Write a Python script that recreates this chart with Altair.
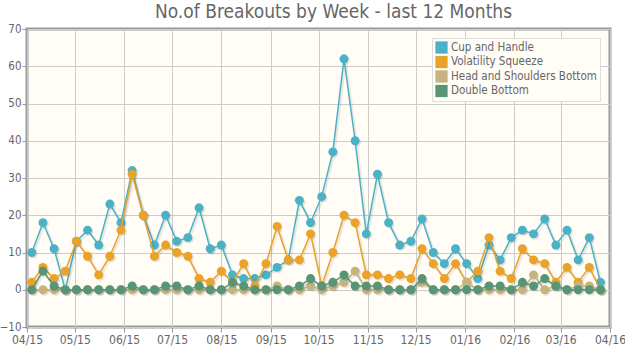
import altair as alt
import pandas as pd

weeks = [
    "2015-04-04", "2015-04-11", "2015-04-18", "2015-04-25",
    "2015-05-02", "2015-05-09", "2015-05-16", "2015-05-23", "2015-05-30",
    "2015-06-06", "2015-06-13", "2015-06-20", "2015-06-27",
    "2015-07-04", "2015-07-11", "2015-07-18", "2015-07-25",
    "2015-08-01", "2015-08-08", "2015-08-15", "2015-08-22", "2015-08-29",
    "2015-09-05", "2015-09-12", "2015-09-19", "2015-09-26",
    "2015-10-03", "2015-10-10", "2015-10-17", "2015-10-24", "2015-10-31",
    "2015-11-07", "2015-11-14", "2015-11-21", "2015-11-28",
    "2015-12-05", "2015-12-12", "2015-12-19", "2015-12-26",
    "2016-01-02", "2016-01-09", "2016-01-16", "2016-01-23", "2016-01-30",
    "2016-02-06", "2016-02-13", "2016-02-20", "2016-02-27",
    "2016-03-05", "2016-03-12", "2016-03-19", "2016-03-26",
]

series_names = ["Cup and Handle", "Volatility Squeeze",
                "Head and Shoulders Bottom", "Double Bottom"]
series_colors = ["#4bb2c5", "#EAA228", "#c5b47f", "#579575"]

cup_and_handle = [10, 18, 11, 0, 13, 16, 12, 23, 18, 32, 20, 12, 20, 13, 14, 22,
                  11, 12, 4, 3, 3, 4, 6, 8, 24, 18, 25, 37, 62, 40, 15, 31,
                  18, 12, 13, 19, 10, 7, 11, 7, 3, 12, 8, 14, 16, 15, 19, 12,
                  16, 8, 14, 2]
volatility_squeeze = [2, 6, 3, 5, 13, 9, 4, 9, 16, 31, 20, 9, 12, 10, 9, 3,
                      2, 5, 2, 7, 1, 7, 17, 8, 8, 15, 1, 10, 20, 18, 4, 4,
                      3, 4, 3, 11, 7, 3, 7, 2, 5, 14, 5, 3, 11, 8, 7, 2,
                      6, 2, 6, 0]
head_shoulders_bottom = [0, 0, 0, 0, 0, 0, 0, 0, 0, 0, 0, 0, 0, 0, 0, 0,
                         0, 0, 0, 0, 0, 0, 1, 0, 0, 1, 0, 1, 2, 5, 0, 0,
                         0, 0, 0, 2, 0, 0, 0, 2, 0, 0, 0, 0, 0, 4, 0, 1,
                         0, 1, 1, 0]
double_bottom = [0, 5, 1, 0, 0, 0, 0, 0, 0, 1, 0, 0, 1, 1, 0, 1,
                 0, 0, 2, 1, 0, 0, 0, 0, 1, 3, 1, 2, 4, 1, 1, 1,
                 0, 0, 0, 3, 0, 0, 0, 0, 0, 1, 1, 0, 2, 1, 3, 1,
                 0, 0, 0, 0]

y_ticks = [-10, 0, 10, 20, 30, 40, 50, 60, 70]

rows = []
for name, vals in zip(series_names,
                      [cup_and_handle, volatility_squeeze,
                       head_shoulders_bottom, double_bottom]):
    for w, v in zip(weeks, vals):
        rows.append({"week": w, "series": name, "value": v})
df = pd.DataFrame(rows)

FONT = "DejaVu Sans Condensed"

x_enc = alt.X(
    "week:T",
    scale=alt.Scale(type="utc",
                    domain=[alt.DateTime(year=2015, month=4, date=1, utc=True),
                            alt.DateTime(year=2016, month=4, date=1, utc=True)]),
    axis=alt.Axis(format="%m/%y", tickCount={"interval": "month", "step": 1},
                  labelOverlap=False, labelBound=False, labelFlush=False,
                  title=None),
)
y_enc = alt.Y(
    "value:Q",
    scale=alt.Scale(domain=[-10, 70], nice=False, zero=False),
    axis=alt.Axis(values=y_ticks, title=None),
)
color_scale = alt.Scale(domain=series_names, range=series_colors)
color_enc = alt.Color("series:N", scale=color_scale, legend=alt.Legend(title=None))

base = alt.Chart(df)
layers = []
for i, name in enumerate(series_names):
    sub = base.transform_filter(alt.datum.series == name)
    shadow_line = sub.mark_line(strokeWidth=2.5, color="#000000", opacity=0.08,
                                xOffset=1.5, yOffset=1.5).encode(x=x_enc, y=y_enc)
    shadow_pt = sub.mark_point(filled=True, size=80, color="#000000", opacity=0.1,
                               xOffset=1.5, yOffset=1.5).encode(x=x_enc, y=y_enc)
    line = sub.mark_line(strokeWidth=1.5).encode(x=x_enc, y=y_enc, color=color_enc)
    pts = sub.mark_point(filled=True, size=80, opacity=1).encode(
        x=x_enc, y=y_enc, color=color_enc)
    layers += [shadow_line, shadow_pt, line, pts]

chart = alt.layer(*layers).properties(
    width=583,
    height=298,
    autosize=alt.AutoSizeParams(type="none"),
    padding={"left": 27, "top": 29, "right": 15, "bottom": 23},
    background="#ffffff",
    title=alt.TitleParams(
        text="No.of Breakouts by Week - last 12 Months",
        font=FONT, fontSize=19, fontWeight="normal", color="#666666",
        dx=15, offset=1,
    ),
).configure_view(
    fill="#fffdf6", stroke="#999999", strokeWidth=3,
).configure_axis(
    grid=True, gridColor="#cccccc", gridWidth=1,
    domain=False, tickColor="#999999", tickSize=5, tickWidth=1,
    labelFont=FONT, labelFontSize=12, labelColor="#666666", labelPadding=2,
).configure_axisY(
    labelAlign="right", labelFontSize=11.5, labelPadding=1,
).configure_legend(
    orient="none", legendX=405, legendY=9,
    symbolType="square", symbolSize=150, symbolStrokeWidth=0,
    symbolOpacity=1,
    labelFont=FONT, labelFontSize=11.5, labelColor="#666666",
    rowPadding=1.5, padding=3, strokeColor="#dddddd", fillColor="#fffdf6",
    labelOffset=3,
)

chart.save("out.html", embed_options={"renderer": "svg", "actions": False})
